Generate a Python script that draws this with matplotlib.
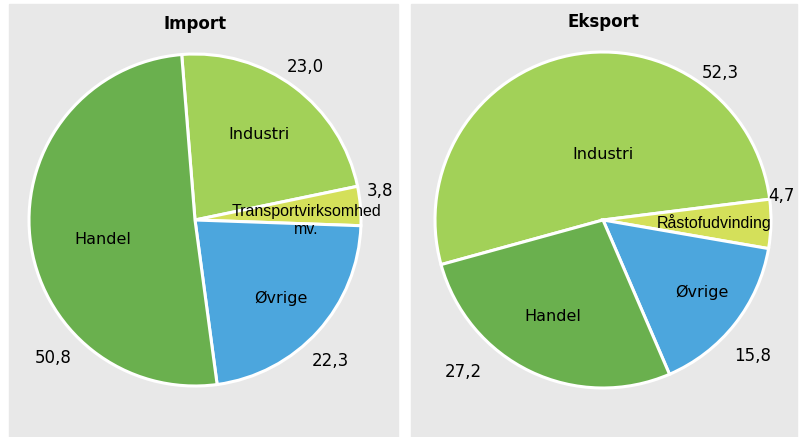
import numpy as np
import matplotlib
matplotlib.use('Agg')
import matplotlib.pyplot as plt
from matplotlib.patches import Rectangle

# data
imp_labels = ['Industri', 'Transportvirksomhed\nmv.', 'Øvrige', 'Handel']
imp_values = [23.0, 3.8, 22.3, 50.8]
eks_labels = ['Industri', 'Råstofudvinding', 'Øvrige', 'Handel']
eks_values = [52.3, 4.7, 15.8, 27.2]

c_handel = '#6ab04e'
c_industri = '#a2d158'
c_small = '#d4e05a'
c_ovrige = '#4ca6dd'
colors = [c_industri, c_small, c_ovrige, c_handel]

W, H = 801, 437
fig = plt.figure(figsize=(W / 100, H / 100), dpi=100)
fig.patch.set_facecolor('white')

main_font = ['DejaVu Sans']
small_font = ['Liberation Sans', 'DejaVu Sans']


def fmt(v):
    return f'{v:.1f}'.replace('.', ',')


def panel(x0, x1, cx, cy, R, title, labels, values, start, lab_pos, val_pos, title_y):
    # grey background
    fig.add_artist(Rectangle((x0 / W, 0), (x1 - x0) / W, (H - 4) / H,
                             transform=fig.transFigure, color='#e8e8e8', zorder=0))
    ax = fig.add_axes([x0 / W, 0, (x1 - x0) / W, (H - 4) / H])
    wedges, _ = ax.pie(values, colors=colors, startangle=start, counterclock=False,
                       wedgeprops=dict(edgecolor='white', linewidth=2.2))
    ph = H - 4
    ax.set_xlim(-(cx - x0) / R, (x1 - cx) / R)
    ax.set_ylim(-(ph - (cy - 4)) / R, (cy - 4) / R)
    ax.set_aspect('auto')
    for w, lab, (r, da) in zip(wedges, labels, lab_pos):
        a = np.deg2rad((w.theta1 + w.theta2) / 2 + da)
        small = len(lab) > 10
        ax.text(r * np.cos(a), r * np.sin(a), lab, ha='center', va='center',
                fontsize=11.5 if small else 11.5, linespacing=1.25,
                family=small_font if small else main_font)
    for w, v, (r, da) in zip(wedges, values, val_pos):
        a = np.deg2rad((w.theta1 + w.theta2) / 2 + da)
        ax.text(r * np.cos(a), r * np.sin(a), fmt(v), ha='center', va='center',
                fontsize=12, family=main_font)
    ax.text(0, (cy - title_y) / R, title, ha='center', va='center',
            fontsize=12, fontweight='bold', family=main_font)


panel(9, 398, 195, 220, 166, 'Import', imp_labels, imp_values, 94.6,
      [(0.64, 0), (0.67, -5), (0.70, 0), (0.57, 6)],
      [(1.14, 1), (1.13, 4), (1.18, -4), (1.19, 38)], 24)
panel(411, 797, 603, 220, 168, 'Eksport', eks_labels, eks_values, 195.4,
      [(0.39, -11), (0.66, 0), (0.73, 2), (0.65, -2)],
      [(1.12, -50), (1.07, 9), (1.20, -4), (1.23, -17)], 22)

fig.savefig('out.png', dpi=100)
